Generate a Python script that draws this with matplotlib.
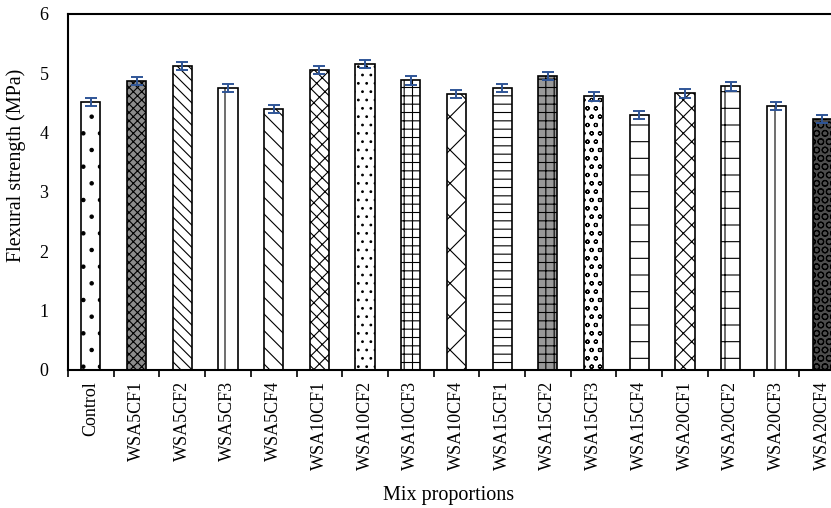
import numpy as np
import matplotlib.pyplot as plt

plt.rcParams['font.family'] = ['Liberation Serif', 'DejaVu Serif']
plt.rcParams['hatch.linewidth'] = 0.8

mixes = ['Control', 'WSA5CF1', 'WSA5CF2', 'WSA5CF3', 'WSA5CF4',
         'WSA10CF1', 'WSA10CF2', 'WSA10CF3', 'WSA10CF4',
         'WSA15CF1', 'WSA15CF2', 'WSA15CF3', 'WSA15CF4',
         'WSA20CF1', 'WSA20CF2', 'WSA20CF3', 'WSA20CF4']
strength = [4.52, 4.87, 5.12, 4.75, 4.40,
            5.05, 5.16, 4.88, 4.65,
            4.75, 4.96, 4.61, 4.30,
            4.66, 4.78, 4.45, 4.23]
err = [0.07] * len(mixes)

# rough stand-ins for the Excel fill patterns
hatches = ['.', 'xxxx', '\\\\\\', '|', '\\\\',
           '//\\\\\\', '..', '++', 'x',
           '--', '++', 'oo', '-',
           'xx', '-|', '|', 'OO']
faces = ['white', '0.55', 'white', 'white', 'white',
         'white', 'white', 'white', 'white',
         'white', '0.6', 'white', 'white',
         'white', 'white', 'white', '0.3']

fig = plt.figure(figsize=(8.31, 5.08), dpi=100)
ax = fig.add_axes([0.0818, 0.2717, 0.935, 0.7008])

x = np.arange(len(mixes))
for i in range(len(mixes)):
    ax.bar(x[i], strength[i], width=0.42, color=faces[i], edgecolor='black',
           hatch=hatches[i], linewidth=1.2, zorder=2)
ax.errorbar(x, strength, yerr=err, fmt='none', ecolor='#2F5597',
            elinewidth=1.4, capsize=4, capthick=1.4, zorder=3)

ax.set_xlim(-0.5, len(mixes) - 0.5)
ax.set_ylim(0, 6)
ax.set_yticks(range(7))
ax.tick_params(axis='y', length=0, labelsize=13, pad=14)

ax.set_xticks(x)
ax.set_xticklabels(mixes, rotation=90, fontsize=13)
ax.set_xticks(np.arange(-0.5, len(mixes), 1), minor=True)
ax.tick_params(axis='x', which='major', length=0, pad=8)
ax.tick_params(axis='x', which='minor', length=5, width=1.2, direction='out')

for s in ['left', 'bottom', 'top']:
    ax.spines[s].set_linewidth(1.5)
ax.spines['right'].set_visible(False)

ax.set_ylabel('Flexural strength (MPa)', fontsize=14.5)
ax.yaxis.set_label_coords(-0.054, 0.575)
ax.set_xlabel('Mix proportions', fontsize=14.5)
ax.xaxis.set_label_coords(0.49, -0.326)

fig.savefig('out.png', dpi=100)
